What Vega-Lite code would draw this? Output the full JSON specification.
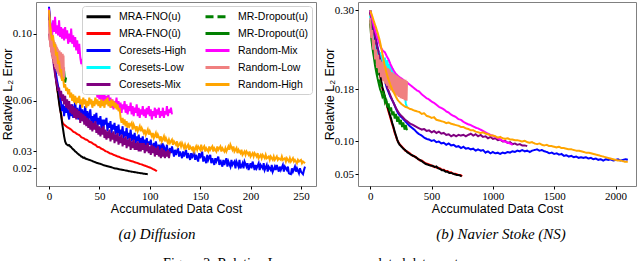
{
"$schema": "https://vega.github.io/schema/vega-lite/v6.json",
"padding": {"left": 0, "top": 1, "right": 0, "bottom": 0},
"background": "white",
"config": {
  "view": {"stroke": "#808080", "strokeWidth": 1},
  "axis": {"grid": false, "domain": false, "tickColor": "#000", "tickSize": 3, "tickWidth": 1, "labelFont": "Liberation Serif", "labelFontSize": 11, "labelColor": "#000", "labelPadding": 1.5, "titleFont": "Liberation Sans", "titleFontSize": 12.5, "titleFontWeight": "normal", "titleColor": "#000"},
  "legend": {"title": null, "orient": "top-right", "offset": 4, "columns": 2, "symbolType": "M-1,0H3", "symbolSize": 144, "symbolStrokeWidth": 3, "labelFont": "Liberation Sans", "labelFontSize": 10.5, "labelColor": "#000", "labelOffset": 19, "rowPadding": 3, "columnPadding": 12, "padding": 3, "fillColor": "#ffffff", "strokeColor": "#d0d0d0", "cornerRadius": 3, "symbolOpacity": 1, "labelLimit": 200}
},
"title": {"text": "Figure 2: Relative L₂ error vs. accumulated data cost.", "orient": "bottom", "anchor": "middle", "dx": -6, "offset": 14, "font": "Liberation Serif", "fontSize": 14, "fontWeight": "normal", "color": "#000"},
"spacing": 5,
"resolve": {"scale": {"color": "independent", "strokeDash": "independent"}, "legend": {"color": "independent", "strokeDash": "independent"}},
"datasets": {
"a": [
{"s":"MRA-FNO(û)","x":0,"y":0.112},{"s":"MRA-FNO(û)","x":1,"y":0.104},{"s":"MRA-FNO(û)","x":2,"y":0.099},{"s":"MRA-FNO(û)","x":3,"y":0.093},{"s":"MRA-FNO(û)","x":4,"y":0.088},{"s":"MRA-FNO(û)","x":5,"y":0.082},{"s":"MRA-FNO(û)","x":6,"y":0.078},{"s":"MRA-FNO(û)","x":7,"y":0.073},{"s":"MRA-FNO(û)","x":8,"y":0.068},{"s":"MRA-FNO(û)","x":9,"y":0.064},{"s":"MRA-FNO(û)","x":10,"y":0.060},{"s":"MRA-FNO(û)","x":11,"y":0.056},{"s":"MRA-FNO(û)","x":12,"y":0.052},{"s":"MRA-FNO(û)","x":13,"y":0.048},{"s":"MRA-FNO(û)","x":14,"y":0.0465},{"s":"MRA-FNO(û)","x":15,"y":0.046},{"s":"MRA-FNO(û)","x":16,"y":0.0455},{"s":"MRA-FNO(û)","x":17,"y":0.045},{"s":"MRA-FNO(û)","x":18,"y":0.0445},{"s":"MRA-FNO(û)","x":20,"y":0.0438},{"s":"MRA-FNO(û)","x":22,"y":0.043},{"s":"MRA-FNO(û)","x":24,"y":0.0418},{"s":"MRA-FNO(û)","x":26,"y":0.0412},{"s":"MRA-FNO(û)","x":28,"y":0.0403},{"s":"MRA-FNO(û)","x":30,"y":0.0398},{"s":"MRA-FNO(û)","x":32,"y":0.0385},{"s":"MRA-FNO(û)","x":34,"y":0.038},{"s":"MRA-FNO(û)","x":36,"y":0.0372},{"s":"MRA-FNO(û)","x":38,"y":0.0368},{"s":"MRA-FNO(û)","x":40,"y":0.0357},{"s":"MRA-FNO(û)","x":42,"y":0.0354},{"s":"MRA-FNO(û)","x":44,"y":0.0345},{"s":"MRA-FNO(û)","x":46,"y":0.0339},{"s":"MRA-FNO(û)","x":48,"y":0.0328},{"s":"MRA-FNO(û)","x":50,"y":0.0325},{"s":"MRA-FNO(û)","x":52,"y":0.0316},{"s":"MRA-FNO(û)","x":54,"y":0.0311},{"s":"MRA-FNO(û)","x":56,"y":0.0302},{"s":"MRA-FNO(û)","x":58,"y":0.0298},{"s":"MRA-FNO(û)","x":60,"y":0.029},{"s":"MRA-FNO(û)","x":62,"y":0.0287},{"s":"MRA-FNO(û)","x":64,"y":0.028},{"s":"MRA-FNO(û)","x":66,"y":0.0276},{"s":"MRA-FNO(û)","x":68,"y":0.027},{"s":"MRA-FNO(û)","x":70,"y":0.0267},{"s":"MRA-FNO(û)","x":72,"y":0.0261},{"s":"MRA-FNO(û)","x":74,"y":0.0258},{"s":"MRA-FNO(û)","x":76,"y":0.0253},{"s":"MRA-FNO(û)","x":78,"y":0.025},{"s":"MRA-FNO(û)","x":80,"y":0.0246},{"s":"MRA-FNO(û)","x":82,"y":0.0242},{"s":"MRA-FNO(û)","x":84,"y":0.0239},{"s":"MRA-FNO(û)","x":86,"y":0.0234},{"s":"MRA-FNO(û)","x":88,"y":0.0231},{"s":"MRA-FNO(û)","x":90,"y":0.0226},{"s":"MRA-FNO(û)","x":92,"y":0.0223},{"s":"MRA-FNO(û)","x":94,"y":0.0218},{"s":"MRA-FNO(û)","x":96,"y":0.0214},{"s":"MRA-FNO(û)","x":98,"y":0.0209},{"s":"MRA-FNO(û)","x":100,"y":0.0205},{"s":"MRA-FNO(û)","x":102,"y":0.0199},{"s":"MRA-FNO(û)","x":104,"y":0.0193},{"s":"MRA-FNO(û)","x":106,"y":0.0187},{"s":"MRA-FNO(û)","x":107,"y":0.0182},
{"s":"MRA-FNO(u)","x":0,"y":0.114},{"s":"MRA-FNO(u)","x":1,"y":0.107},{"s":"MRA-FNO(u)","x":2,"y":0.1},{"s":"MRA-FNO(u)","x":3,"y":0.094},{"s":"MRA-FNO(u)","x":4,"y":0.088},{"s":"MRA-FNO(u)","x":5,"y":0.083},{"s":"MRA-FNO(u)","x":6,"y":0.078},{"s":"MRA-FNO(u)","x":7,"y":0.073},{"s":"MRA-FNO(u)","x":8,"y":0.068},{"s":"MRA-FNO(u)","x":9,"y":0.064},{"s":"MRA-FNO(u)","x":10,"y":0.059},{"s":"MRA-FNO(u)","x":11,"y":0.055},{"s":"MRA-FNO(u)","x":12,"y":0.052},{"s":"MRA-FNO(u)","x":13,"y":0.047},{"s":"MRA-FNO(u)","x":14,"y":0.043},{"s":"MRA-FNO(u)","x":15,"y":0.039},{"s":"MRA-FNO(u)","x":16,"y":0.036},{"s":"MRA-FNO(u)","x":17,"y":0.0345},{"s":"MRA-FNO(u)","x":18,"y":0.034},{"s":"MRA-FNO(u)","x":19,"y":0.0336},{"s":"MRA-FNO(u)","x":20,"y":0.0338},{"s":"MRA-FNO(u)","x":21,"y":0.033},{"s":"MRA-FNO(u)","x":22,"y":0.0326},{"s":"MRA-FNO(u)","x":23,"y":0.0318},{"s":"MRA-FNO(u)","x":24,"y":0.0312},{"s":"MRA-FNO(u)","x":25,"y":0.0308},{"s":"MRA-FNO(u)","x":26,"y":0.03},{"s":"MRA-FNO(u)","x":27,"y":0.0296},{"s":"MRA-FNO(u)","x":28,"y":0.029},{"s":"MRA-FNO(u)","x":29,"y":0.0285},{"s":"MRA-FNO(u)","x":30,"y":0.028},{"s":"MRA-FNO(u)","x":31,"y":0.0276},{"s":"MRA-FNO(u)","x":32,"y":0.027},{"s":"MRA-FNO(u)","x":33,"y":0.0268},{"s":"MRA-FNO(u)","x":34,"y":0.0262},{"s":"MRA-FNO(u)","x":35,"y":0.0264},{"s":"MRA-FNO(u)","x":36,"y":0.0258},{"s":"MRA-FNO(u)","x":38,"y":0.0254},{"s":"MRA-FNO(u)","x":40,"y":0.025},{"s":"MRA-FNO(u)","x":42,"y":0.0246},{"s":"MRA-FNO(u)","x":44,"y":0.024},{"s":"MRA-FNO(u)","x":46,"y":0.0236},{"s":"MRA-FNO(u)","x":48,"y":0.0231},{"s":"MRA-FNO(u)","x":50,"y":0.0228},{"s":"MRA-FNO(u)","x":52,"y":0.0224},{"s":"MRA-FNO(u)","x":54,"y":0.0219},{"s":"MRA-FNO(u)","x":56,"y":0.0216},{"s":"MRA-FNO(u)","x":58,"y":0.0212},{"s":"MRA-FNO(u)","x":60,"y":0.0209},{"s":"MRA-FNO(u)","x":62,"y":0.0206},{"s":"MRA-FNO(u)","x":64,"y":0.0202},{"s":"MRA-FNO(u)","x":66,"y":0.0199},{"s":"MRA-FNO(u)","x":68,"y":0.0197},{"s":"MRA-FNO(u)","x":70,"y":0.0194},{"s":"MRA-FNO(u)","x":72,"y":0.0192},{"s":"MRA-FNO(u)","x":74,"y":0.019},{"s":"MRA-FNO(u)","x":76,"y":0.0187},{"s":"MRA-FNO(u)","x":78,"y":0.0185},{"s":"MRA-FNO(u)","x":80,"y":0.0182},{"s":"MRA-FNO(u)","x":82,"y":0.018},{"s":"MRA-FNO(u)","x":84,"y":0.0178},{"s":"MRA-FNO(u)","x":86,"y":0.0176},{"s":"MRA-FNO(u)","x":88,"y":0.0174},{"s":"MRA-FNO(u)","x":90,"y":0.0172},{"s":"MRA-FNO(u)","x":92,"y":0.017},{"s":"MRA-FNO(u)","x":94,"y":0.0168},{"s":"MRA-FNO(u)","x":96,"y":0.0166},{"s":"MRA-FNO(u)","x":98,"y":0.0165},
{"s":"Coresets-High","x":0,"y":0.116},{"s":"Coresets-High","x":1,"y":0.109},{"s":"Coresets-High","x":2,"y":0.101},{"s":"Coresets-High","x":3,"y":0.095},{"s":"Coresets-High","x":4,"y":0.09},{"s":"Coresets-High","x":5,"y":0.085},{"s":"Coresets-High","x":6,"y":0.08},{"s":"Coresets-High","x":7,"y":0.076},{"s":"Coresets-High","x":8,"y":0.072},{"s":"Coresets-High","x":9,"y":0.069},{"s":"Coresets-High","x":10,"y":0.066},{"s":"Coresets-High","x":11,"y":0.062},{"s":"Coresets-High","x":12,"y":0.059},{"s":"Coresets-High","x":13,"y":0.054},{"s":"Coresets-High","x":14,"y":0.058},{"s":"Coresets-High","x":15,"y":0.051},{"s":"Coresets-High","x":16,"y":0.057},{"s":"Coresets-High","x":17,"y":0.053},{"s":"Coresets-High","x":18,"y":0.06},{"s":"Coresets-High","x":19,"y":0.052},{"s":"Coresets-High","x":20,"y":0.049},{"s":"Coresets-High","x":21,"y":0.056},{"s":"Coresets-High","x":22,"y":0.051},{"s":"Coresets-High","x":23,"y":0.058},{"s":"Coresets-High","x":24,"y":0.05},{"s":"Coresets-High","x":25,"y":0.055},{"s":"Coresets-High","x":26,"y":0.06},{"s":"Coresets-High","x":27,"y":0.052},{"s":"Coresets-High","x":28,"y":0.056},{"s":"Coresets-High","x":29,"y":0.049},{"s":"Coresets-High","x":30,"y":0.054},{"s":"Coresets-High","x":31,"y":0.058},{"s":"Coresets-High","x":32,"y":0.05},{"s":"Coresets-High","x":33,"y":0.055},{"s":"Coresets-High","x":34,"y":0.048},{"s":"Coresets-High","x":35,"y":0.053},{"s":"Coresets-High","x":36,"y":0.057},{"s":"Coresets-High","x":37,"y":0.049},{"s":"Coresets-High","x":38,"y":0.054},{"s":"Coresets-High","x":39,"y":0.047},{"s":"Coresets-High","x":40,"y":0.052},{"s":"Coresets-High","x":41,"y":0.055},{"s":"Coresets-High","x":42,"y":0.047},{"s":"Coresets-High","x":43,"y":0.051},{"s":"Coresets-High","x":44,"y":0.045},{"s":"Coresets-High","x":45,"y":0.052},{"s":"Coresets-High","x":46,"y":0.048},{"s":"Coresets-High","x":47,"y":0.053},{"s":"Coresets-High","x":48,"y":0.045},{"s":"Coresets-High","x":49,"y":0.05},{"s":"Coresets-High","x":50,"y":0.046},{"s":"Coresets-High","x":51,"y":0.051},{"s":"Coresets-High","x":52,"y":0.044},{"s":"Coresets-High","x":53,"y":0.049},{"s":"Coresets-High","x":54,"y":0.043},{"s":"Coresets-High","x":55,"y":0.049},{"s":"Coresets-High","x":56,"y":0.046},{"s":"Coresets-High","x":57,"y":0.05},{"s":"Coresets-High","x":58,"y":0.042},{"s":"Coresets-High","x":59,"y":0.047},{"s":"Coresets-High","x":60,"y":0.044},{"s":"Coresets-High","x":61,"y":0.048},{"s":"Coresets-High","x":62,"y":0.041},{"s":"Coresets-High","x":63,"y":0.046},{"s":"Coresets-High","x":64,"y":0.043},{"s":"Coresets-High","x":65,"y":0.047},{"s":"Coresets-High","x":66,"y":0.04},{"s":"Coresets-High","x":67,"y":0.045},{"s":"Coresets-High","x":68,"y":0.041},{"s":"Coresets-High","x":69,"y":0.046},{"s":"Coresets-High","x":70,"y":0.039},{"s":"Coresets-High","x":71,"y":0.043},{"s":"Coresets-High","x":72,"y":0.04},{"s":"Coresets-High","x":73,"y":0.045},{"s":"Coresets-High","x":74,"y":0.038},{"s":"Coresets-High","x":75,"y":0.042},{"s":"Coresets-High","x":76,"y":0.039},{"s":"Coresets-High","x":77,"y":0.044},{"s":"Coresets-High","x":78,"y":0.037},{"s":"Coresets-High","x":79,"y":0.041},{"s":"Coresets-High","x":80,"y":0.038},{"s":"Coresets-High","x":81,"y":0.043},{"s":"Coresets-High","x":82,"y":0.036},{"s":"Coresets-High","x":83,"y":0.04},{"s":"Coresets-High","x":84,"y":0.037},{"s":"Coresets-High","x":85,"y":0.041},{"s":"Coresets-High","x":86,"y":0.035},{"s":"Coresets-High","x":87,"y":0.039},{"s":"Coresets-High","x":88,"y":0.036},{"s":"Coresets-High","x":89,"y":0.04},{"s":"Coresets-High","x":90,"y":0.034},{"s":"Coresets-High","x":91,"y":0.038},{"s":"Coresets-High","x":92,"y":0.035},{"s":"Coresets-High","x":93,"y":0.039},{"s":"Coresets-High","x":94,"y":0.033},{"s":"Coresets-High","x":95,"y":0.037},{"s":"Coresets-High","x":96,"y":0.034},{"s":"Coresets-High","x":97,"y":0.038},{"s":"Coresets-High","x":98,"y":0.032},{"s":"Coresets-High","x":99,"y":0.036},{"s":"Coresets-High","x":100,"y":0.034},{"s":"Coresets-High","x":101,"y":0.037},{"s":"Coresets-High","x":102,"y":0.031},{"s":"Coresets-High","x":104,"y":0.035},{"s":"Coresets-High","x":105,"y":0.032},{"s":"Coresets-High","x":106,"y":0.036},{"s":"Coresets-High","x":108,"y":0.03},{"s":"Coresets-High","x":109,"y":0.034},{"s":"Coresets-High","x":110,"y":0.031},{"s":"Coresets-High","x":112,"y":0.035},{"s":"Coresets-High","x":113,"y":0.029},{"s":"Coresets-High","x":114,"y":0.033},{"s":"Coresets-High","x":116,"y":0.03},{"s":"Coresets-High","x":117,"y":0.034},{"s":"Coresets-High","x":118,"y":0.028},{"s":"Coresets-High","x":120,"y":0.032},{"s":"Coresets-High","x":121,"y":0.029},{"s":"Coresets-High","x":122,"y":0.033},{"s":"Coresets-High","x":124,"y":0.027},{"s":"Coresets-High","x":125,"y":0.031},{"s":"Coresets-High","x":126,"y":0.028},{"s":"Coresets-High","x":128,"y":0.032},{"s":"Coresets-High","x":129,"y":0.027},{"s":"Coresets-High","x":130,"y":0.03},{"s":"Coresets-High","x":132,"y":0.026},{"s":"Coresets-High","x":133,"y":0.03},{"s":"Coresets-High","x":134,"y":0.027},{"s":"Coresets-High","x":136,"y":0.031},{"s":"Coresets-High","x":137,"y":0.026},{"s":"Coresets-High","x":138,"y":0.029},{"s":"Coresets-High","x":140,"y":0.025},{"s":"Coresets-High","x":141,"y":0.029},{"s":"Coresets-High","x":142,"y":0.026},{"s":"Coresets-High","x":144,"y":0.03},{"s":"Coresets-High","x":145,"y":0.025},{"s":"Coresets-High","x":146,"y":0.028},{"s":"Coresets-High","x":148,"y":0.024},{"s":"Coresets-High","x":149,"y":0.029},{"s":"Coresets-High","x":150,"y":0.026},{"s":"Coresets-High","x":152,"y":0.03},{"s":"Coresets-High","x":153,"y":0.024},{"s":"Coresets-High","x":154,"y":0.027},{"s":"Coresets-High","x":156,"y":0.023},{"s":"Coresets-High","x":157,"y":0.028},{"s":"Coresets-High","x":158,"y":0.025},{"s":"Coresets-High","x":160,"y":0.028},{"s":"Coresets-High","x":161,"y":0.023},{"s":"Coresets-High","x":162,"y":0.026},{"s":"Coresets-High","x":164,"y":0.022},{"s":"Coresets-High","x":165,"y":0.026},{"s":"Coresets-High","x":166,"y":0.024},{"s":"Coresets-High","x":168,"y":0.027},{"s":"Coresets-High","x":169,"y":0.022},{"s":"Coresets-High","x":170,"y":0.025},{"s":"Coresets-High","x":172,"y":0.021},{"s":"Coresets-High","x":173,"y":0.025},{"s":"Coresets-High","x":174,"y":0.022},{"s":"Coresets-High","x":176,"y":0.026},{"s":"Coresets-High","x":177,"y":0.021},{"s":"Coresets-High","x":178,"y":0.024},{"s":"Coresets-High","x":180,"y":0.021},{"s":"Coresets-High","x":181,"y":0.025},{"s":"Coresets-High","x":182,"y":0.022},{"s":"Coresets-High","x":184,"y":0.024},{"s":"Coresets-High","x":185,"y":0.02},{"s":"Coresets-High","x":186,"y":0.024},{"s":"Coresets-High","x":188,"y":0.021},{"s":"Coresets-High","x":189,"y":0.025},{"s":"Coresets-High","x":190,"y":0.02},{"s":"Coresets-High","x":192,"y":0.023},{"s":"Coresets-High","x":193,"y":0.02},{"s":"Coresets-High","x":194,"y":0.024},{"s":"Coresets-High","x":196,"y":0.021},{"s":"Coresets-High","x":197,"y":0.023},{"s":"Coresets-High","x":198,"y":0.019},{"s":"Coresets-High","x":200,"y":0.023},{"s":"Coresets-High","x":201,"y":0.02},{"s":"Coresets-High","x":202,"y":0.024},{"s":"Coresets-High","x":204,"y":0.019},{"s":"Coresets-High","x":205,"y":0.022},{"s":"Coresets-High","x":206,"y":0.02},{"s":"Coresets-High","x":208,"y":0.023},{"s":"Coresets-High","x":209,"y":0.019},{"s":"Coresets-High","x":210,"y":0.022},{"s":"Coresets-High","x":212,"y":0.02},{"s":"Coresets-High","x":213,"y":0.023},{"s":"Coresets-High","x":214,"y":0.019},{"s":"Coresets-High","x":216,"y":0.022},{"s":"Coresets-High","x":217,"y":0.018},{"s":"Coresets-High","x":218,"y":0.021},{"s":"Coresets-High","x":220,"y":0.019},{"s":"Coresets-High","x":221,"y":0.022},{"s":"Coresets-High","x":222,"y":0.018},{"s":"Coresets-High","x":224,"y":0.021},{"s":"Coresets-High","x":225,"y":0.019},{"s":"Coresets-High","x":226,"y":0.022},{"s":"Coresets-High","x":228,"y":0.018},{"s":"Coresets-High","x":229,"y":0.021},{"s":"Coresets-High","x":230,"y":0.019},{"s":"Coresets-High","x":232,"y":0.022},{"s":"Coresets-High","x":233,"y":0.018},{"s":"Coresets-High","x":234,"y":0.021},{"s":"Coresets-High","x":236,"y":0.019},{"s":"Coresets-High","x":237,"y":0.021},{"s":"Coresets-High","x":238,"y":0.017},{"s":"Coresets-High","x":240,"y":0.0165},{"s":"Coresets-High","x":241,"y":0.02},{"s":"Coresets-High","x":242,"y":0.018},{"s":"Coresets-High","x":244,"y":0.021},{"s":"Coresets-High","x":245,"y":0.018},{"s":"Coresets-High","x":246,"y":0.02},{"s":"Coresets-High","x":248,"y":0.017},{"s":"Coresets-High","x":249,"y":0.02},{"s":"Coresets-High","x":250,"y":0.018},{"s":"Coresets-High","x":252,"y":0.0165},{"s":"Coresets-High","x":253,"y":0.019},{"s":"Coresets-High","x":254,"y":0.021},
{"s":"Coresets-Low","x":0,"y":0.112},{"s":"Coresets-Low","x":0.5,"y":0.104},{"s":"Coresets-Low","x":1,"y":0.108},{"s":"Coresets-Low","x":1.5,"y":0.099},{"s":"Coresets-Low","x":2,"y":0.104},{"s":"Coresets-Low","x":2.5,"y":0.095},{"s":"Coresets-Low","x":3,"y":0.1},{"s":"Coresets-Low","x":3.5,"y":0.092},{"s":"Coresets-Low","x":4,"y":0.098},{"s":"Coresets-Low","x":4.5,"y":0.089},{"s":"Coresets-Low","x":5,"y":0.095},{"s":"Coresets-Low","x":5.5,"y":0.086},{"s":"Coresets-Low","x":6,"y":0.093},{"s":"Coresets-Low","x":6.5,"y":0.084},{"s":"Coresets-Low","x":7,"y":0.09},{"s":"Coresets-Low","x":7.5,"y":0.082},{"s":"Coresets-Low","x":8,"y":0.088},{"s":"Coresets-Low","x":8.5,"y":0.08},{"s":"Coresets-Low","x":9,"y":0.087},{"s":"Coresets-Low","x":9.5,"y":0.079},{"s":"Coresets-Low","x":10,"y":0.086},{"s":"Coresets-Low","x":10.5,"y":0.077},{"s":"Coresets-Low","x":11,"y":0.084},{"s":"Coresets-Low","x":11.5,"y":0.076},{"s":"Coresets-Low","x":12,"y":0.083},{"s":"Coresets-Low","x":12.5,"y":0.078},{"s":"Coresets-Low","x":13,"y":0.082},
{"s":"Coresets-Mix","x":0,"y":0.1},{"s":"Coresets-Mix","x":1,"y":0.096},{"s":"Coresets-Mix","x":2,"y":0.092},{"s":"Coresets-Mix","x":3,"y":0.088},{"s":"Coresets-Mix","x":4,"y":0.085},{"s":"Coresets-Mix","x":5,"y":0.08},{"s":"Coresets-Mix","x":6,"y":0.076},{"s":"Coresets-Mix","x":7,"y":0.072},{"s":"Coresets-Mix","x":8,"y":0.07},{"s":"Coresets-Mix","x":9,"y":0.066},{"s":"Coresets-Mix","x":10,"y":0.068},{"s":"Coresets-Mix","x":11,"y":0.062},{"s":"Coresets-Mix","x":12,"y":0.066},{"s":"Coresets-Mix","x":13,"y":0.06},{"s":"Coresets-Mix","x":14,"y":0.064},{"s":"Coresets-Mix","x":15,"y":0.058},{"s":"Coresets-Mix","x":16,"y":0.063},{"s":"Coresets-Mix","x":17,"y":0.056},{"s":"Coresets-Mix","x":18,"y":0.061},{"s":"Coresets-Mix","x":19,"y":0.055},{"s":"Coresets-Mix","x":20,"y":0.06},{"s":"Coresets-Mix","x":21,"y":0.053},{"s":"Coresets-Mix","x":22,"y":0.058},{"s":"Coresets-Mix","x":23,"y":0.052},{"s":"Coresets-Mix","x":24,"y":0.057},{"s":"Coresets-Mix","x":25,"y":0.05},{"s":"Coresets-Mix","x":26,"y":0.056},{"s":"Coresets-Mix","x":27,"y":0.049},{"s":"Coresets-Mix","x":28,"y":0.055},{"s":"Coresets-Mix","x":29,"y":0.05},{"s":"Coresets-Mix","x":30,"y":0.054},{"s":"Coresets-Mix","x":31,"y":0.047},{"s":"Coresets-Mix","x":32,"y":0.053},{"s":"Coresets-Mix","x":33,"y":0.048},{"s":"Coresets-Mix","x":34,"y":0.052},{"s":"Coresets-Mix","x":35,"y":0.046},{"s":"Coresets-Mix","x":36,"y":0.051},{"s":"Coresets-Mix","x":37,"y":0.045},{"s":"Coresets-Mix","x":38,"y":0.05},{"s":"Coresets-Mix","x":39,"y":0.044},{"s":"Coresets-Mix","x":40,"y":0.049},{"s":"Coresets-Mix","x":41,"y":0.043},{"s":"Coresets-Mix","x":42,"y":0.048},{"s":"Coresets-Mix","x":43,"y":0.042},{"s":"Coresets-Mix","x":44,"y":0.047},{"s":"Coresets-Mix","x":45,"y":0.043},{"s":"Coresets-Mix","x":46,"y":0.048},{"s":"Coresets-Mix","x":47,"y":0.041},{"s":"Coresets-Mix","x":48,"y":0.046},{"s":"Coresets-Mix","x":49,"y":0.04},{"s":"Coresets-Mix","x":50,"y":0.045},{"s":"Coresets-Mix","x":51,"y":0.039},{"s":"Coresets-Mix","x":52,"y":0.044},{"s":"Coresets-Mix","x":53,"y":0.04},{"s":"Coresets-Mix","x":54,"y":0.045},{"s":"Coresets-Mix","x":55,"y":0.038},{"s":"Coresets-Mix","x":56,"y":0.043},{"s":"Coresets-Mix","x":57,"y":0.037},{"s":"Coresets-Mix","x":58,"y":0.042},{"s":"Coresets-Mix","x":59,"y":0.038},{"s":"Coresets-Mix","x":60,"y":0.043},{"s":"Coresets-Mix","x":61,"y":0.036},{"s":"Coresets-Mix","x":62,"y":0.041},{"s":"Coresets-Mix","x":63,"y":0.037},{"s":"Coresets-Mix","x":64,"y":0.042},{"s":"Coresets-Mix","x":65,"y":0.035},{"s":"Coresets-Mix","x":66,"y":0.04},{"s":"Coresets-Mix","x":67,"y":0.036},{"s":"Coresets-Mix","x":68,"y":0.041},{"s":"Coresets-Mix","x":69,"y":0.034},{"s":"Coresets-Mix","x":70,"y":0.039},{"s":"Coresets-Mix","x":71,"y":0.035},{"s":"Coresets-Mix","x":72,"y":0.04},{"s":"Coresets-Mix","x":73,"y":0.033},{"s":"Coresets-Mix","x":74,"y":0.038},{"s":"Coresets-Mix","x":75,"y":0.034},{"s":"Coresets-Mix","x":76,"y":0.039},{"s":"Coresets-Mix","x":77,"y":0.032},{"s":"Coresets-Mix","x":78,"y":0.037},{"s":"Coresets-Mix","x":79,"y":0.033},{"s":"Coresets-Mix","x":80,"y":0.038},{"s":"Coresets-Mix","x":81,"y":0.031},{"s":"Coresets-Mix","x":82,"y":0.036},{"s":"Coresets-Mix","x":83,"y":0.032},{"s":"Coresets-Mix","x":84,"y":0.037},{"s":"Coresets-Mix","x":85,"y":0.031},{"s":"Coresets-Mix","x":86,"y":0.035},{"s":"Coresets-Mix","x":87,"y":0.031},{"s":"Coresets-Mix","x":88,"y":0.036},{"s":"Coresets-Mix","x":89,"y":0.03},{"s":"Coresets-Mix","x":90,"y":0.035},{"s":"Coresets-Mix","x":91,"y":0.03},{"s":"Coresets-Mix","x":92,"y":0.035},{"s":"Coresets-Mix","x":93,"y":0.031},{"s":"Coresets-Mix","x":94,"y":0.035},{"s":"Coresets-Mix","x":95,"y":0.029},{"s":"Coresets-Mix","x":96,"y":0.034},{"s":"Coresets-Mix","x":97,"y":0.03},{"s":"Coresets-Mix","x":98,"y":0.035},{"s":"Coresets-Mix","x":99,"y":0.029},{"s":"Coresets-Mix","x":100,"y":0.033},{"s":"Coresets-Mix","x":101,"y":0.028},{"s":"Coresets-Mix","x":102,"y":0.034},{"s":"Coresets-Mix","x":103,"y":0.029},{"s":"Coresets-Mix","x":104,"y":0.033},{"s":"Coresets-Mix","x":105,"y":0.027},{"s":"Coresets-Mix","x":106,"y":0.032},{"s":"Coresets-Mix","x":107,"y":0.028},{"s":"Coresets-Mix","x":108,"y":0.033},{"s":"Coresets-Mix","x":109,"y":0.027},{"s":"Coresets-Mix","x":110,"y":0.031},{"s":"Coresets-Mix","x":111,"y":0.026},{"s":"Coresets-Mix","x":112,"y":0.032},{"s":"Coresets-Mix","x":113,"y":0.027},{"s":"Coresets-Mix","x":114,"y":0.031},{"s":"Coresets-Mix","x":115,"y":0.026},{"s":"Coresets-Mix","x":116,"y":0.03},{"s":"Coresets-Mix","x":117,"y":0.027},{"s":"Coresets-Mix","x":118,"y":0.031},{"s":"Coresets-Mix","x":119,"y":0.026},{"s":"Coresets-Mix","x":120,"y":0.03},
{"s":"MR-Dropout(u)","x":0,"y":0.112},{"s":"MR-Dropout(u)","x":1,"y":0.106},{"s":"MR-Dropout(u)","x":2,"y":0.101},{"s":"MR-Dropout(u)","x":3,"y":0.097},{"s":"MR-Dropout(u)","x":4,"y":0.094},{"s":"MR-Dropout(u)","x":5,"y":0.09},{"s":"MR-Dropout(u)","x":6,"y":0.088},{"s":"MR-Dropout(u)","x":7,"y":0.085},{"s":"MR-Dropout(u)","x":8,"y":0.083},{"s":"MR-Dropout(u)","x":9,"y":0.081},{"s":"MR-Dropout(u)","x":10,"y":0.079},{"s":"MR-Dropout(u)","x":11,"y":0.077},{"s":"MR-Dropout(u)","x":12,"y":0.076},{"s":"MR-Dropout(u)","x":13,"y":0.075},{"s":"MR-Dropout(u)","x":14,"y":0.074},
{"s":"MR-Dropout(û)","x":0,"y":0.11},{"s":"MR-Dropout(û)","x":1,"y":0.104},{"s":"MR-Dropout(û)","x":2,"y":0.098},{"s":"MR-Dropout(û)","x":3,"y":0.1},{"s":"MR-Dropout(û)","x":4,"y":0.092},{"s":"MR-Dropout(û)","x":5,"y":0.095},{"s":"MR-Dropout(û)","x":6,"y":0.087},{"s":"MR-Dropout(û)","x":7,"y":0.09},{"s":"MR-Dropout(û)","x":8,"y":0.083},{"s":"MR-Dropout(û)","x":9,"y":0.086},{"s":"MR-Dropout(û)","x":10,"y":0.079},{"s":"MR-Dropout(û)","x":11,"y":0.083},{"s":"MR-Dropout(û)","x":12,"y":0.076},{"s":"MR-Dropout(û)","x":13,"y":0.08},{"s":"MR-Dropout(û)","x":14,"y":0.073},{"s":"MR-Dropout(û)","x":15,"y":0.078},{"s":"MR-Dropout(û)","x":16,"y":0.071},{"s":"MR-Dropout(û)","x":17,"y":0.074},
{"s":"Random-Mix","x":0,"y":0.115},{"s":"Random-Mix","x":1,"y":0.1},{"s":"Random-Mix","x":2,"y":0.106},{"s":"Random-Mix","x":3,"y":0.098},{"s":"Random-Mix","x":4,"y":0.108},{"s":"Random-Mix","x":5,"y":0.101},{"s":"Random-Mix","x":6,"y":0.11},{"s":"Random-Mix","x":7,"y":0.1},{"s":"Random-Mix","x":8,"y":0.105},{"s":"Random-Mix","x":9,"y":0.099},{"s":"Random-Mix","x":10,"y":0.108},{"s":"Random-Mix","x":11,"y":0.098},{"s":"Random-Mix","x":12,"y":0.104},{"s":"Random-Mix","x":13,"y":0.097},{"s":"Random-Mix","x":14,"y":0.103},{"s":"Random-Mix","x":15,"y":0.096},{"s":"Random-Mix","x":16,"y":0.104},{"s":"Random-Mix","x":17,"y":0.097},{"s":"Random-Mix","x":18,"y":0.102},{"s":"Random-Mix","x":19,"y":0.094},{"s":"Random-Mix","x":20,"y":0.1},{"s":"Random-Mix","x":21,"y":0.095},{"s":"Random-Mix","x":22,"y":0.103},{"s":"Random-Mix","x":23,"y":0.094},{"s":"Random-Mix","x":24,"y":0.099},{"s":"Random-Mix","x":25,"y":0.092},{"s":"Random-Mix","x":26,"y":0.098},{"s":"Random-Mix","x":27,"y":0.09},{"s":"Random-Mix","x":28,"y":0.096},{"s":"Random-Mix","x":29,"y":0.088},{"s":"Random-Mix","x":30,"y":0.094},{"s":"Random-Mix","x":31,"y":0.086},{"s":"Random-Mix","x":32,"y":0.082},{"s":"Random-Mix","x":33,"y":0.085},{"s":"Random-Mix","x":34,"y":0.078},{"s":"Random-Mix","x":35,"y":0.081},{"s":"Random-Mix","x":36,"y":0.074},{"s":"Random-Mix","x":37,"y":0.078},{"s":"Random-Mix","x":38,"y":0.071},{"s":"Random-Mix","x":39,"y":0.075},{"s":"Random-Mix","x":40,"y":0.069},{"s":"Random-Mix","x":41,"y":0.073},{"s":"Random-Mix","x":42,"y":0.067},{"s":"Random-Mix","x":43,"y":0.071},{"s":"Random-Mix","x":44,"y":0.065},{"s":"Random-Mix","x":45,"y":0.07},{"s":"Random-Mix","x":46,"y":0.064},{"s":"Random-Mix","x":47,"y":0.068},{"s":"Random-Mix","x":48,"y":0.062},{"s":"Random-Mix","x":49,"y":0.067},{"s":"Random-Mix","x":50,"y":0.061},{"s":"Random-Mix","x":51,"y":0.066},{"s":"Random-Mix","x":52,"y":0.06},{"s":"Random-Mix","x":53,"y":0.065},{"s":"Random-Mix","x":54,"y":0.059},{"s":"Random-Mix","x":55,"y":0.064},{"s":"Random-Mix","x":56,"y":0.058},{"s":"Random-Mix","x":57,"y":0.063},{"s":"Random-Mix","x":58,"y":0.06},{"s":"Random-Mix","x":59,"y":0.064},{"s":"Random-Mix","x":60,"y":0.057},{"s":"Random-Mix","x":61,"y":0.062},{"s":"Random-Mix","x":62,"y":0.056},{"s":"Random-Mix","x":63,"y":0.061},{"s":"Random-Mix","x":64,"y":0.055},{"s":"Random-Mix","x":65,"y":0.06},{"s":"Random-Mix","x":66,"y":0.057},{"s":"Random-Mix","x":67,"y":0.062},{"s":"Random-Mix","x":68,"y":0.055},{"s":"Random-Mix","x":69,"y":0.06},{"s":"Random-Mix","x":70,"y":0.054},{"s":"Random-Mix","x":71,"y":0.059},{"s":"Random-Mix","x":72,"y":0.053},{"s":"Random-Mix","x":73,"y":0.058},{"s":"Random-Mix","x":74,"y":0.055},{"s":"Random-Mix","x":75,"y":0.06},{"s":"Random-Mix","x":76,"y":0.053},{"s":"Random-Mix","x":77,"y":0.058},{"s":"Random-Mix","x":78,"y":0.052},{"s":"Random-Mix","x":79,"y":0.057},{"s":"Random-Mix","x":80,"y":0.054},{"s":"Random-Mix","x":81,"y":0.059},{"s":"Random-Mix","x":82,"y":0.052},{"s":"Random-Mix","x":83,"y":0.057},{"s":"Random-Mix","x":84,"y":0.051},{"s":"Random-Mix","x":85,"y":0.056},{"s":"Random-Mix","x":86,"y":0.053},{"s":"Random-Mix","x":87,"y":0.058},{"s":"Random-Mix","x":88,"y":0.051},{"s":"Random-Mix","x":89,"y":0.056},{"s":"Random-Mix","x":90,"y":0.05},{"s":"Random-Mix","x":91,"y":0.055},{"s":"Random-Mix","x":92,"y":0.052},{"s":"Random-Mix","x":93,"y":0.057},{"s":"Random-Mix","x":94,"y":0.051},{"s":"Random-Mix","x":95,"y":0.055},{"s":"Random-Mix","x":96,"y":0.05},{"s":"Random-Mix","x":97,"y":0.056},{"s":"Random-Mix","x":98,"y":0.052},{"s":"Random-Mix","x":99,"y":0.057},{"s":"Random-Mix","x":100,"y":0.051},{"s":"Random-Mix","x":101,"y":0.055},{"s":"Random-Mix","x":102,"y":0.049},{"s":"Random-Mix","x":103,"y":0.054},{"s":"Random-Mix","x":104,"y":0.051},{"s":"Random-Mix","x":105,"y":0.056},{"s":"Random-Mix","x":106,"y":0.05},{"s":"Random-Mix","x":107,"y":0.055},{"s":"Random-Mix","x":108,"y":0.052},{"s":"Random-Mix","x":109,"y":0.056},{"s":"Random-Mix","x":110,"y":0.05},{"s":"Random-Mix","x":111,"y":0.054},{"s":"Random-Mix","x":112,"y":0.051},{"s":"Random-Mix","x":113,"y":0.056},{"s":"Random-Mix","x":114,"y":0.05},{"s":"Random-Mix","x":115,"y":0.054},{"s":"Random-Mix","x":116,"y":0.052},{"s":"Random-Mix","x":117,"y":0.057},{"s":"Random-Mix","x":118,"y":0.051},{"s":"Random-Mix","x":119,"y":0.055},{"s":"Random-Mix","x":120,"y":0.053},{"s":"Random-Mix","x":121,"y":0.056},{"s":"Random-Mix","x":122,"y":0.052},
{"s":"Random-Low","x":0,"y":0.108},{"s":"Random-Low","x":0.4,"y":0.096},{"s":"Random-Low","x":0.8,"y":0.105},{"s":"Random-Low","x":1.2,"y":0.092},{"s":"Random-Low","x":1.6,"y":0.103},{"s":"Random-Low","x":2,"y":0.089},{"s":"Random-Low","x":2.4,"y":0.101},{"s":"Random-Low","x":2.8,"y":0.087},{"s":"Random-Low","x":3.2,"y":0.099},{"s":"Random-Low","x":3.6,"y":0.085},{"s":"Random-Low","x":4,"y":0.098},{"s":"Random-Low","x":4.4,"y":0.083},{"s":"Random-Low","x":4.8,"y":0.096},{"s":"Random-Low","x":5.2,"y":0.082},{"s":"Random-Low","x":5.6,"y":0.095},{"s":"Random-Low","x":6,"y":0.08},{"s":"Random-Low","x":6.4,"y":0.094},{"s":"Random-Low","x":6.8,"y":0.079},{"s":"Random-Low","x":7.2,"y":0.093},{"s":"Random-Low","x":7.6,"y":0.078},{"s":"Random-Low","x":8,"y":0.092},{"s":"Random-Low","x":8.4,"y":0.077},{"s":"Random-Low","x":8.8,"y":0.091},{"s":"Random-Low","x":9.2,"y":0.076},{"s":"Random-Low","x":9.6,"y":0.09},{"s":"Random-Low","x":10,"y":0.075},{"s":"Random-Low","x":10.4,"y":0.09},{"s":"Random-Low","x":10.8,"y":0.075},{"s":"Random-Low","x":11.2,"y":0.089},{"s":"Random-Low","x":11.6,"y":0.074},{"s":"Random-Low","x":12,"y":0.089},{"s":"Random-Low","x":12.4,"y":0.073},{"s":"Random-Low","x":12.8,"y":0.088},{"s":"Random-Low","x":13.2,"y":0.073},{"s":"Random-Low","x":13.6,"y":0.088},{"s":"Random-Low","x":14,"y":0.072},{"s":"Random-Low","x":14.4,"y":0.087},{"s":"Random-Low","x":14.8,"y":0.073},{"s":"Random-Low","x":15,"y":0.08},
{"s":"Random-High","x":0,"y":0.114},{"s":"Random-High","x":1,"y":0.106},{"s":"Random-High","x":2,"y":0.1},{"s":"Random-High","x":3,"y":0.096},{"s":"Random-High","x":4,"y":0.099},{"s":"Random-High","x":5,"y":0.092},{"s":"Random-High","x":6,"y":0.094},{"s":"Random-High","x":7,"y":0.087},{"s":"Random-High","x":8,"y":0.089},{"s":"Random-High","x":9,"y":0.082},{"s":"Random-High","x":10,"y":0.084},{"s":"Random-High","x":11,"y":0.077},{"s":"Random-High","x":12,"y":0.079},{"s":"Random-High","x":13,"y":0.072},{"s":"Random-High","x":14,"y":0.074},{"s":"Random-High","x":15,"y":0.068},{"s":"Random-High","x":16,"y":0.07},{"s":"Random-High","x":17,"y":0.066},{"s":"Random-High","x":18,"y":0.068},{"s":"Random-High","x":19,"y":0.064},{"s":"Random-High","x":20,"y":0.067},{"s":"Random-High","x":21,"y":0.062},{"s":"Random-High","x":22,"y":0.065},{"s":"Random-High","x":23,"y":0.06},{"s":"Random-High","x":24,"y":0.064},{"s":"Random-High","x":25,"y":0.059},{"s":"Random-High","x":26,"y":0.063},{"s":"Random-High","x":27,"y":0.058},{"s":"Random-High","x":28,"y":0.062},{"s":"Random-High","x":29,"y":0.059},{"s":"Random-High","x":30,"y":0.063},{"s":"Random-High","x":31,"y":0.058},{"s":"Random-High","x":32,"y":0.061},{"s":"Random-High","x":33,"y":0.056},{"s":"Random-High","x":34,"y":0.062},{"s":"Random-High","x":35,"y":0.058},{"s":"Random-High","x":36,"y":0.061},{"s":"Random-High","x":37,"y":0.056},{"s":"Random-High","x":38,"y":0.06},{"s":"Random-High","x":39,"y":0.057},{"s":"Random-High","x":40,"y":0.062},{"s":"Random-High","x":41,"y":0.058},{"s":"Random-High","x":42,"y":0.061},{"s":"Random-High","x":43,"y":0.056},{"s":"Random-High","x":44,"y":0.06},{"s":"Random-High","x":45,"y":0.057},{"s":"Random-High","x":46,"y":0.062},{"s":"Random-High","x":47,"y":0.058},{"s":"Random-High","x":48,"y":0.061},{"s":"Random-High","x":49,"y":0.057},{"s":"Random-High","x":50,"y":0.06},{"s":"Random-High","x":51,"y":0.056},{"s":"Random-High","x":52,"y":0.061},{"s":"Random-High","x":53,"y":0.057},{"s":"Random-High","x":54,"y":0.06},{"s":"Random-High","x":55,"y":0.056},{"s":"Random-High","x":56,"y":0.061},{"s":"Random-High","x":57,"y":0.058},{"s":"Random-High","x":58,"y":0.062},{"s":"Random-High","x":59,"y":0.057},{"s":"Random-High","x":60,"y":0.06},{"s":"Random-High","x":61,"y":0.056},{"s":"Random-High","x":62,"y":0.061},{"s":"Random-High","x":63,"y":0.057},{"s":"Random-High","x":64,"y":0.06},{"s":"Random-High","x":65,"y":0.056},{"s":"Random-High","x":66,"y":0.059},{"s":"Random-High","x":67,"y":0.055},{"s":"Random-High","x":68,"y":0.058},{"s":"Random-High","x":69,"y":0.054},{"s":"Random-High","x":70,"y":0.056},{"s":"Random-High","x":71,"y":0.05},{"s":"Random-High","x":72,"y":0.047},{"s":"Random-High","x":73,"y":0.05},{"s":"Random-High","x":74,"y":0.046},{"s":"Random-High","x":75,"y":0.049},{"s":"Random-High","x":76,"y":0.045},{"s":"Random-High","x":77,"y":0.048},{"s":"Random-High","x":78,"y":0.044},{"s":"Random-High","x":79,"y":0.047},{"s":"Random-High","x":80,"y":0.045},{"s":"Random-High","x":82,"y":0.047},{"s":"Random-High","x":83,"y":0.043},{"s":"Random-High","x":84,"y":0.046},{"s":"Random-High","x":86,"y":0.043},{"s":"Random-High","x":87,"y":0.045},{"s":"Random-High","x":88,"y":0.042},{"s":"Random-High","x":90,"y":0.045},{"s":"Random-High","x":91,"y":0.042},{"s":"Random-High","x":92,"y":0.044},{"s":"Random-High","x":94,"y":0.041},{"s":"Random-High","x":95,"y":0.043},{"s":"Random-High","x":96,"y":0.04},{"s":"Random-High","x":98,"y":0.043},{"s":"Random-High","x":99,"y":0.04},{"s":"Random-High","x":100,"y":0.042},{"s":"Random-High","x":102,"y":0.039},{"s":"Random-High","x":103,"y":0.041},{"s":"Random-High","x":104,"y":0.038},{"s":"Random-High","x":106,"y":0.041},{"s":"Random-High","x":107,"y":0.038},{"s":"Random-High","x":108,"y":0.04},{"s":"Random-High","x":110,"y":0.037},{"s":"Random-High","x":111,"y":0.039},{"s":"Random-High","x":112,"y":0.036},{"s":"Random-High","x":114,"y":0.039},{"s":"Random-High","x":115,"y":0.036},{"s":"Random-High","x":116,"y":0.038},{"s":"Random-High","x":118,"y":0.035},{"s":"Random-High","x":119,"y":0.037},{"s":"Random-High","x":120,"y":0.035},{"s":"Random-High","x":122,"y":0.037},{"s":"Random-High","x":123,"y":0.034},{"s":"Random-High","x":124,"y":0.036},{"s":"Random-High","x":126,"y":0.034},{"s":"Random-High","x":127,"y":0.036},{"s":"Random-High","x":128,"y":0.033},{"s":"Random-High","x":130,"y":0.035},{"s":"Random-High","x":131,"y":0.033},{"s":"Random-High","x":132,"y":0.035},{"s":"Random-High","x":134,"y":0.032},{"s":"Random-High","x":135,"y":0.034},{"s":"Random-High","x":136,"y":0.032},{"s":"Random-High","x":138,"y":0.034},{"s":"Random-High","x":139,"y":0.031},{"s":"Random-High","x":140,"y":0.033},{"s":"Random-High","x":142,"y":0.031},{"s":"Random-High","x":143,"y":0.033},{"s":"Random-High","x":144,"y":0.03},{"s":"Random-High","x":146,"y":0.033},{"s":"Random-High","x":147,"y":0.031},{"s":"Random-High","x":148,"y":0.033},{"s":"Random-High","x":150,"y":0.031},{"s":"Random-High","x":151,"y":0.034},{"s":"Random-High","x":152,"y":0.031},{"s":"Random-High","x":154,"y":0.033},{"s":"Random-High","x":155,"y":0.03},{"s":"Random-High","x":156,"y":0.032},{"s":"Random-High","x":158,"y":0.03},{"s":"Random-High","x":159,"y":0.033},{"s":"Random-High","x":160,"y":0.031},{"s":"Random-High","x":162,"y":0.033},{"s":"Random-High","x":163,"y":0.03},{"s":"Random-High","x":164,"y":0.032},{"s":"Random-High","x":166,"y":0.03},{"s":"Random-High","x":167,"y":0.033},{"s":"Random-High","x":168,"y":0.031},{"s":"Random-High","x":170,"y":0.033},{"s":"Random-High","x":171,"y":0.03},{"s":"Random-High","x":172,"y":0.032},{"s":"Random-High","x":174,"y":0.03},{"s":"Random-High","x":175,"y":0.032},{"s":"Random-High","x":176,"y":0.03},{"s":"Random-High","x":178,"y":0.033},{"s":"Random-High","x":179,"y":0.031},{"s":"Random-High","x":180,"y":0.034},{"s":"Random-High","x":182,"y":0.031},{"s":"Random-High","x":183,"y":0.033},{"s":"Random-High","x":184,"y":0.03},{"s":"Random-High","x":186,"y":0.032},{"s":"Random-High","x":187,"y":0.029},{"s":"Random-High","x":188,"y":0.031},{"s":"Random-High","x":190,"y":0.029},{"s":"Random-High","x":191,"y":0.031},{"s":"Random-High","x":192,"y":0.028},{"s":"Random-High","x":194,"y":0.03},{"s":"Random-High","x":195,"y":0.028},{"s":"Random-High","x":196,"y":0.03},{"s":"Random-High","x":198,"y":0.028},{"s":"Random-High","x":199,"y":0.03},{"s":"Random-High","x":200,"y":0.027},{"s":"Random-High","x":202,"y":0.029},{"s":"Random-High","x":203,"y":0.027},{"s":"Random-High","x":204,"y":0.029},{"s":"Random-High","x":206,"y":0.027},{"s":"Random-High","x":207,"y":0.029},{"s":"Random-High","x":208,"y":0.026},{"s":"Random-High","x":210,"y":0.028},{"s":"Random-High","x":211,"y":0.026},{"s":"Random-High","x":212,"y":0.028},{"s":"Random-High","x":214,"y":0.026},{"s":"Random-High","x":215,"y":0.028},{"s":"Random-High","x":216,"y":0.026},{"s":"Random-High","x":218,"y":0.027},{"s":"Random-High","x":219,"y":0.025},{"s":"Random-High","x":220,"y":0.027},{"s":"Random-High","x":222,"y":0.025},{"s":"Random-High","x":223,"y":0.027},{"s":"Random-High","x":224,"y":0.025},{"s":"Random-High","x":226,"y":0.027},{"s":"Random-High","x":227,"y":0.025},{"s":"Random-High","x":228,"y":0.026},{"s":"Random-High","x":230,"y":0.025},{"s":"Random-High","x":231,"y":0.027},{"s":"Random-High","x":232,"y":0.025},{"s":"Random-High","x":234,"y":0.026},{"s":"Random-High","x":235,"y":0.024},{"s":"Random-High","x":236,"y":0.026},{"s":"Random-High","x":238,"y":0.024},{"s":"Random-High","x":239,"y":0.026},{"s":"Random-High","x":240,"y":0.024},{"s":"Random-High","x":242,"y":0.026},{"s":"Random-High","x":243,"y":0.024},{"s":"Random-High","x":244,"y":0.025},{"s":"Random-High","x":246,"y":0.023},{"s":"Random-High","x":247,"y":0.025},{"s":"Random-High","x":248,"y":0.024},{"s":"Random-High","x":250,"y":0.025},{"s":"Random-High","x":251,"y":0.023},{"s":"Random-High","x":252,"y":0.024},{"s":"Random-High","x":254,"y":0.023}
],
"b": [
{"s":"MRA-FNO(û)","x":0,"y":0.298},{"s":"MRA-FNO(û)","x":10,"y":0.283},{"s":"MRA-FNO(û)","x":20,"y":0.27},{"s":"MRA-FNO(û)","x":30,"y":0.259},{"s":"MRA-FNO(û)","x":40,"y":0.247},{"s":"MRA-FNO(û)","x":50,"y":0.236},{"s":"MRA-FNO(û)","x":60,"y":0.225},{"s":"MRA-FNO(û)","x":70,"y":0.214},{"s":"MRA-FNO(û)","x":80,"y":0.202},{"s":"MRA-FNO(û)","x":90,"y":0.19},{"s":"MRA-FNO(û)","x":100,"y":0.18},{"s":"MRA-FNO(û)","x":110,"y":0.173},{"s":"MRA-FNO(û)","x":120,"y":0.166},{"s":"MRA-FNO(û)","x":130,"y":0.159},{"s":"MRA-FNO(û)","x":140,"y":0.152},{"s":"MRA-FNO(û)","x":150,"y":0.145},{"s":"MRA-FNO(û)","x":160,"y":0.139},{"s":"MRA-FNO(û)","x":170,"y":0.132},{"s":"MRA-FNO(û)","x":180,"y":0.126},{"s":"MRA-FNO(û)","x":190,"y":0.12},{"s":"MRA-FNO(û)","x":200,"y":0.113},{"s":"MRA-FNO(û)","x":210,"y":0.108},{"s":"MRA-FNO(û)","x":220,"y":0.102},{"s":"MRA-FNO(û)","x":230,"y":0.099},{"s":"MRA-FNO(û)","x":240,"y":0.096},{"s":"MRA-FNO(û)","x":255,"y":0.093},{"s":"MRA-FNO(û)","x":270,"y":0.09},{"s":"MRA-FNO(û)","x":285,"y":0.086},{"s":"MRA-FNO(û)","x":300,"y":0.085},{"s":"MRA-FNO(û)","x":315,"y":0.083},{"s":"MRA-FNO(û)","x":330,"y":0.081},{"s":"MRA-FNO(û)","x":345,"y":0.078},{"s":"MRA-FNO(û)","x":360,"y":0.078},{"s":"MRA-FNO(û)","x":375,"y":0.075},{"s":"MRA-FNO(û)","x":390,"y":0.074},{"s":"MRA-FNO(û)","x":405,"y":0.071},{"s":"MRA-FNO(û)","x":420,"y":0.071},{"s":"MRA-FNO(û)","x":435,"y":0.069},{"s":"MRA-FNO(û)","x":450,"y":0.067},{"s":"MRA-FNO(û)","x":465,"y":0.066},{"s":"MRA-FNO(û)","x":480,"y":0.065},{"s":"MRA-FNO(û)","x":495,"y":0.064},{"s":"MRA-FNO(û)","x":510,"y":0.062},{"s":"MRA-FNO(û)","x":525,"y":0.062},{"s":"MRA-FNO(û)","x":540,"y":0.06},{"s":"MRA-FNO(û)","x":555,"y":0.06},{"s":"MRA-FNO(û)","x":570,"y":0.059},{"s":"MRA-FNO(û)","x":585,"y":0.057},{"s":"MRA-FNO(û)","x":600,"y":0.057},{"s":"MRA-FNO(û)","x":615,"y":0.055},{"s":"MRA-FNO(û)","x":630,"y":0.055},{"s":"MRA-FNO(û)","x":645,"y":0.053},{"s":"MRA-FNO(û)","x":660,"y":0.053},{"s":"MRA-FNO(û)","x":675,"y":0.051},{"s":"MRA-FNO(û)","x":690,"y":0.051},{"s":"MRA-FNO(û)","x":705,"y":0.05},{"s":"MRA-FNO(û)","x":720,"y":0.049},{"s":"MRA-FNO(û)","x":735,"y":0.049},{"s":"MRA-FNO(û)","x":750,"y":0.047},
{"s":"MRA-FNO(u)","x":0,"y":0.3},{"s":"MRA-FNO(u)","x":10,"y":0.285},{"s":"MRA-FNO(u)","x":20,"y":0.272},{"s":"MRA-FNO(u)","x":30,"y":0.262},{"s":"MRA-FNO(u)","x":40,"y":0.25},{"s":"MRA-FNO(u)","x":50,"y":0.24},{"s":"MRA-FNO(u)","x":60,"y":0.228},{"s":"MRA-FNO(u)","x":70,"y":0.218},{"s":"MRA-FNO(u)","x":80,"y":0.205},{"s":"MRA-FNO(u)","x":90,"y":0.192},{"s":"MRA-FNO(u)","x":100,"y":0.182},{"s":"MRA-FNO(u)","x":110,"y":0.176},{"s":"MRA-FNO(u)","x":120,"y":0.168},{"s":"MRA-FNO(u)","x":130,"y":0.162},{"s":"MRA-FNO(u)","x":140,"y":0.154},{"s":"MRA-FNO(u)","x":150,"y":0.148},{"s":"MRA-FNO(u)","x":160,"y":0.141},{"s":"MRA-FNO(u)","x":170,"y":0.135},{"s":"MRA-FNO(u)","x":180,"y":0.128},{"s":"MRA-FNO(u)","x":190,"y":0.122},{"s":"MRA-FNO(u)","x":200,"y":0.115},{"s":"MRA-FNO(u)","x":210,"y":0.109},{"s":"MRA-FNO(u)","x":220,"y":0.103},{"s":"MRA-FNO(u)","x":230,"y":0.098},{"s":"MRA-FNO(u)","x":240,"y":0.095},{"s":"MRA-FNO(u)","x":255,"y":0.092},{"s":"MRA-FNO(u)","x":270,"y":0.089},{"s":"MRA-FNO(u)","x":285,"y":0.087},{"s":"MRA-FNO(u)","x":300,"y":0.084},{"s":"MRA-FNO(u)","x":315,"y":0.082},{"s":"MRA-FNO(u)","x":330,"y":0.08},{"s":"MRA-FNO(u)","x":345,"y":0.079},{"s":"MRA-FNO(u)","x":360,"y":0.077},{"s":"MRA-FNO(u)","x":375,"y":0.076},{"s":"MRA-FNO(u)","x":390,"y":0.073},{"s":"MRA-FNO(u)","x":405,"y":0.072},{"s":"MRA-FNO(u)","x":420,"y":0.07},{"s":"MRA-FNO(u)","x":435,"y":0.068},{"s":"MRA-FNO(u)","x":450,"y":0.066},{"s":"MRA-FNO(u)","x":465,"y":0.065},{"s":"MRA-FNO(u)","x":480,"y":0.064},{"s":"MRA-FNO(u)","x":495,"y":0.063},{"s":"MRA-FNO(u)","x":510,"y":0.063},{"s":"MRA-FNO(u)","x":525,"y":0.061},{"s":"MRA-FNO(u)","x":540,"y":0.062},{"s":"MRA-FNO(u)","x":555,"y":0.059},{"s":"MRA-FNO(u)","x":570,"y":0.058},{"s":"MRA-FNO(u)","x":585,"y":0.056},{"s":"MRA-FNO(u)","x":600,"y":0.056},{"s":"MRA-FNO(u)","x":615,"y":0.054},{"s":"MRA-FNO(u)","x":630,"y":0.054},{"s":"MRA-FNO(u)","x":645,"y":0.052},{"s":"MRA-FNO(u)","x":660,"y":0.052},{"s":"MRA-FNO(u)","x":675,"y":0.051},{"s":"MRA-FNO(u)","x":690,"y":0.05},{"s":"MRA-FNO(u)","x":705,"y":0.049},{"s":"MRA-FNO(u)","x":720,"y":0.049},{"s":"MRA-FNO(u)","x":735,"y":0.048},{"s":"MRA-FNO(u)","x":745,"y":0.047},
{"s":"Coresets-High","x":0,"y":0.3},{"s":"Coresets-High","x":15,"y":0.285},{"s":"Coresets-High","x":30,"y":0.27},{"s":"Coresets-High","x":45,"y":0.258},{"s":"Coresets-High","x":60,"y":0.244},{"s":"Coresets-High","x":75,"y":0.232},{"s":"Coresets-High","x":90,"y":0.22},{"s":"Coresets-High","x":105,"y":0.205},{"s":"Coresets-High","x":120,"y":0.192},{"s":"Coresets-High","x":135,"y":0.182},{"s":"Coresets-High","x":150,"y":0.175},{"s":"Coresets-High","x":165,"y":0.168},{"s":"Coresets-High","x":180,"y":0.163},{"s":"Coresets-High","x":195,"y":0.157},{"s":"Coresets-High","x":210,"y":0.15},{"s":"Coresets-High","x":225,"y":0.144},{"s":"Coresets-High","x":240,"y":0.14},{"s":"Coresets-High","x":255,"y":0.137},{"s":"Coresets-High","x":270,"y":0.134},{"s":"Coresets-High","x":285,"y":0.131},{"s":"Coresets-High","x":300,"y":0.128},{"s":"Coresets-High","x":320,"y":0.124},{"s":"Coresets-High","x":340,"y":0.121},{"s":"Coresets-High","x":360,"y":0.118},{"s":"Coresets-High","x":380,"y":0.114},{"s":"Coresets-High","x":400,"y":0.111},{"s":"Coresets-High","x":420,"y":0.109},{"s":"Coresets-High","x":440,"y":0.106},{"s":"Coresets-High","x":460,"y":0.104},{"s":"Coresets-High","x":480,"y":0.103},{"s":"Coresets-High","x":500,"y":0.101},{"s":"Coresets-High","x":520,"y":0.102},{"s":"Coresets-High","x":540,"y":0.099},{"s":"Coresets-High","x":560,"y":0.1},{"s":"Coresets-High","x":580,"y":0.097},{"s":"Coresets-High","x":600,"y":0.098},{"s":"Coresets-High","x":620,"y":0.095},{"s":"Coresets-High","x":640,"y":0.097},{"s":"Coresets-High","x":660,"y":0.094},{"s":"Coresets-High","x":680,"y":0.095},{"s":"Coresets-High","x":700,"y":0.092},{"s":"Coresets-High","x":720,"y":0.093},{"s":"Coresets-High","x":740,"y":0.09},{"s":"Coresets-High","x":760,"y":0.092},{"s":"Coresets-High","x":780,"y":0.089},{"s":"Coresets-High","x":800,"y":0.09},{"s":"Coresets-High","x":820,"y":0.088},{"s":"Coresets-High","x":840,"y":0.089},{"s":"Coresets-High","x":860,"y":0.086},{"s":"Coresets-High","x":880,"y":0.088},{"s":"Coresets-High","x":900,"y":0.086},{"s":"Coresets-High","x":920,"y":0.087},{"s":"Coresets-High","x":940,"y":0.083},{"s":"Coresets-High","x":960,"y":0.085},{"s":"Coresets-High","x":980,"y":0.082},{"s":"Coresets-High","x":1000,"y":0.084},{"s":"Coresets-High","x":1020,"y":0.082},{"s":"Coresets-High","x":1040,"y":0.083},{"s":"Coresets-High","x":1060,"y":0.081},{"s":"Coresets-High","x":1080,"y":0.083},{"s":"Coresets-High","x":1100,"y":0.082},{"s":"Coresets-High","x":1120,"y":0.084},{"s":"Coresets-High","x":1140,"y":0.083},{"s":"Coresets-High","x":1160,"y":0.085},{"s":"Coresets-High","x":1180,"y":0.084},{"s":"Coresets-High","x":1200,"y":0.086},{"s":"Coresets-High","x":1220,"y":0.085},{"s":"Coresets-High","x":1240,"y":0.087},{"s":"Coresets-High","x":1260,"y":0.085},{"s":"Coresets-High","x":1280,"y":0.086},{"s":"Coresets-High","x":1300,"y":0.084},{"s":"Coresets-High","x":1320,"y":0.086},{"s":"Coresets-High","x":1340,"y":0.087},{"s":"Coresets-High","x":1360,"y":0.088},{"s":"Coresets-High","x":1380,"y":0.086},{"s":"Coresets-High","x":1400,"y":0.087},{"s":"Coresets-High","x":1420,"y":0.085},{"s":"Coresets-High","x":1440,"y":0.084},{"s":"Coresets-High","x":1460,"y":0.082},{"s":"Coresets-High","x":1480,"y":0.083},{"s":"Coresets-High","x":1500,"y":0.081},{"s":"Coresets-High","x":1520,"y":0.082},{"s":"Coresets-High","x":1540,"y":0.08},{"s":"Coresets-High","x":1560,"y":0.081},{"s":"Coresets-High","x":1580,"y":0.078},{"s":"Coresets-High","x":1600,"y":0.079},{"s":"Coresets-High","x":1620,"y":0.077},{"s":"Coresets-High","x":1640,"y":0.078},{"s":"Coresets-High","x":1660,"y":0.076},{"s":"Coresets-High","x":1680,"y":0.077},{"s":"Coresets-High","x":1700,"y":0.075},{"s":"Coresets-High","x":1720,"y":0.076},{"s":"Coresets-High","x":1740,"y":0.075},{"s":"Coresets-High","x":1760,"y":0.076},{"s":"Coresets-High","x":1780,"y":0.074},{"s":"Coresets-High","x":1800,"y":0.075},{"s":"Coresets-High","x":1820,"y":0.073},{"s":"Coresets-High","x":1840,"y":0.074},{"s":"Coresets-High","x":1860,"y":0.072},{"s":"Coresets-High","x":1880,"y":0.073},{"s":"Coresets-High","x":1900,"y":0.071},{"s":"Coresets-High","x":1920,"y":0.073},{"s":"Coresets-High","x":1940,"y":0.072},{"s":"Coresets-High","x":1960,"y":0.073},{"s":"Coresets-High","x":1980,"y":0.071},{"s":"Coresets-High","x":2000,"y":0.072},{"s":"Coresets-High","x":2020,"y":0.073},{"s":"Coresets-High","x":2040,"y":0.071},{"s":"Coresets-High","x":2060,"y":0.072},{"s":"Coresets-High","x":2080,"y":0.073},{"s":"Coresets-High","x":2100,"y":0.072},
{"s":"Coresets-Low","x":0,"y":0.292},{"s":"Coresets-Low","x":10,"y":0.27},{"s":"Coresets-Low","x":20,"y":0.262},{"s":"Coresets-Low","x":30,"y":0.25},{"s":"Coresets-Low","x":40,"y":0.245},{"s":"Coresets-Low","x":50,"y":0.232},{"s":"Coresets-Low","x":60,"y":0.24},{"s":"Coresets-Low","x":70,"y":0.228},{"s":"Coresets-Low","x":80,"y":0.236},{"s":"Coresets-Low","x":90,"y":0.222},{"s":"Coresets-Low","x":100,"y":0.232},{"s":"Coresets-Low","x":110,"y":0.215},{"s":"Coresets-Low","x":120,"y":0.228},{"s":"Coresets-Low","x":130,"y":0.21},{"s":"Coresets-Low","x":140,"y":0.224},{"s":"Coresets-Low","x":150,"y":0.205},{"s":"Coresets-Low","x":160,"y":0.218},{"s":"Coresets-Low","x":170,"y":0.2},{"s":"Coresets-Low","x":180,"y":0.212},{"s":"Coresets-Low","x":190,"y":0.192},{"s":"Coresets-Low","x":200,"y":0.205},{"s":"Coresets-Low","x":210,"y":0.186},{"s":"Coresets-Low","x":220,"y":0.198},{"s":"Coresets-Low","x":230,"y":0.178},{"s":"Coresets-Low","x":240,"y":0.192},{"s":"Coresets-Low","x":250,"y":0.172},{"s":"Coresets-Low","x":260,"y":0.186},{"s":"Coresets-Low","x":270,"y":0.165},{"s":"Coresets-Low","x":280,"y":0.178},{"s":"Coresets-Low","x":290,"y":0.158},{"s":"Coresets-Low","x":300,"y":0.152},
{"s":"Coresets-Mix","x":0,"y":0.298},{"s":"Coresets-Mix","x":15,"y":0.283},{"s":"Coresets-Mix","x":30,"y":0.268},{"s":"Coresets-Mix","x":45,"y":0.255},{"s":"Coresets-Mix","x":60,"y":0.242},{"s":"Coresets-Mix","x":75,"y":0.23},{"s":"Coresets-Mix","x":90,"y":0.218},{"s":"Coresets-Mix","x":105,"y":0.205},{"s":"Coresets-Mix","x":120,"y":0.195},{"s":"Coresets-Mix","x":135,"y":0.185},{"s":"Coresets-Mix","x":150,"y":0.177},{"s":"Coresets-Mix","x":165,"y":0.17},{"s":"Coresets-Mix","x":180,"y":0.163},{"s":"Coresets-Mix","x":195,"y":0.157},{"s":"Coresets-Mix","x":210,"y":0.151},{"s":"Coresets-Mix","x":225,"y":0.146},{"s":"Coresets-Mix","x":240,"y":0.142},{"s":"Coresets-Mix","x":255,"y":0.139},{"s":"Coresets-Mix","x":270,"y":0.136},{"s":"Coresets-Mix","x":285,"y":0.133},{"s":"Coresets-Mix","x":300,"y":0.131},{"s":"Coresets-Mix","x":320,"y":0.128},{"s":"Coresets-Mix","x":340,"y":0.126},{"s":"Coresets-Mix","x":360,"y":0.124},{"s":"Coresets-Mix","x":380,"y":0.122},{"s":"Coresets-Mix","x":400,"y":0.12},{"s":"Coresets-Mix","x":420,"y":0.118},{"s":"Coresets-Mix","x":440,"y":0.119},{"s":"Coresets-Mix","x":460,"y":0.116},{"s":"Coresets-Mix","x":480,"y":0.117},{"s":"Coresets-Mix","x":500,"y":0.114},{"s":"Coresets-Mix","x":520,"y":0.116},{"s":"Coresets-Mix","x":540,"y":0.113},{"s":"Coresets-Mix","x":560,"y":0.115},{"s":"Coresets-Mix","x":580,"y":0.112},{"s":"Coresets-Mix","x":600,"y":0.113},{"s":"Coresets-Mix","x":620,"y":0.11},{"s":"Coresets-Mix","x":640,"y":0.111},{"s":"Coresets-Mix","x":660,"y":0.108},{"s":"Coresets-Mix","x":680,"y":0.11},{"s":"Coresets-Mix","x":700,"y":0.108},{"s":"Coresets-Mix","x":720,"y":0.11},{"s":"Coresets-Mix","x":740,"y":0.109},{"s":"Coresets-Mix","x":760,"y":0.11},{"s":"Coresets-Mix","x":780,"y":0.108},{"s":"Coresets-Mix","x":800,"y":0.11},{"s":"Coresets-Mix","x":820,"y":0.112},{"s":"Coresets-Mix","x":840,"y":0.109},{"s":"Coresets-Mix","x":860,"y":0.111},{"s":"Coresets-Mix","x":880,"y":0.108},{"s":"Coresets-Mix","x":900,"y":0.11},{"s":"Coresets-Mix","x":920,"y":0.107},{"s":"Coresets-Mix","x":940,"y":0.108},{"s":"Coresets-Mix","x":960,"y":0.105},{"s":"Coresets-Mix","x":980,"y":0.107},{"s":"Coresets-Mix","x":1000,"y":0.104},{"s":"Coresets-Mix","x":1020,"y":0.105},{"s":"Coresets-Mix","x":1040,"y":0.102},{"s":"Coresets-Mix","x":1060,"y":0.103},{"s":"Coresets-Mix","x":1080,"y":0.1},{"s":"Coresets-Mix","x":1100,"y":0.101},{"s":"Coresets-Mix","x":1120,"y":0.098},{"s":"Coresets-Mix","x":1140,"y":0.099},{"s":"Coresets-Mix","x":1160,"y":0.096},{"s":"Coresets-Mix","x":1180,"y":0.097},{"s":"Coresets-Mix","x":1200,"y":0.095},{"s":"Coresets-Mix","x":1220,"y":0.096},{"s":"Coresets-Mix","x":1240,"y":0.094},{"s":"Coresets-Mix","x":1260,"y":0.094},{"s":"Coresets-Mix","x":1280,"y":0.093},
{"s":"MR-Dropout(u)","x":0,"y":0.285},{"s":"MR-Dropout(u)","x":10,"y":0.262},{"s":"MR-Dropout(u)","x":20,"y":0.248},{"s":"MR-Dropout(u)","x":30,"y":0.236},{"s":"MR-Dropout(u)","x":40,"y":0.225},{"s":"MR-Dropout(u)","x":50,"y":0.215},{"s":"MR-Dropout(u)","x":60,"y":0.206},{"s":"MR-Dropout(u)","x":70,"y":0.197},{"s":"MR-Dropout(u)","x":80,"y":0.19},{"s":"MR-Dropout(u)","x":90,"y":0.184},{"s":"MR-Dropout(u)","x":100,"y":0.178},{"s":"MR-Dropout(u)","x":120,"y":0.168},{"s":"MR-Dropout(u)","x":140,"y":0.16},
{"s":"MR-Dropout(û)","x":0,"y":0.28},{"s":"MR-Dropout(û)","x":10,"y":0.255},{"s":"MR-Dropout(û)","x":20,"y":0.24},{"s":"MR-Dropout(û)","x":30,"y":0.228},{"s":"MR-Dropout(û)","x":40,"y":0.215},{"s":"MR-Dropout(û)","x":50,"y":0.205},{"s":"MR-Dropout(û)","x":60,"y":0.196},{"s":"MR-Dropout(û)","x":70,"y":0.188},{"s":"MR-Dropout(û)","x":80,"y":0.18},{"s":"MR-Dropout(û)","x":90,"y":0.175},{"s":"MR-Dropout(û)","x":100,"y":0.168},{"s":"MR-Dropout(û)","x":110,"y":0.171},{"s":"MR-Dropout(û)","x":120,"y":0.16},{"s":"MR-Dropout(û)","x":130,"y":0.165},{"s":"MR-Dropout(û)","x":140,"y":0.152},{"s":"MR-Dropout(û)","x":150,"y":0.158},{"s":"MR-Dropout(û)","x":160,"y":0.146},{"s":"MR-Dropout(û)","x":170,"y":0.152},{"s":"MR-Dropout(û)","x":180,"y":0.14},{"s":"MR-Dropout(û)","x":190,"y":0.146},{"s":"MR-Dropout(û)","x":200,"y":0.135},{"s":"MR-Dropout(û)","x":210,"y":0.142},{"s":"MR-Dropout(û)","x":220,"y":0.13},{"s":"MR-Dropout(û)","x":230,"y":0.138},{"s":"MR-Dropout(û)","x":240,"y":0.126},{"s":"MR-Dropout(û)","x":250,"y":0.133},{"s":"MR-Dropout(û)","x":260,"y":0.122},{"s":"MR-Dropout(û)","x":270,"y":0.129},{"s":"MR-Dropout(û)","x":280,"y":0.118},{"s":"MR-Dropout(û)","x":290,"y":0.125},{"s":"MR-Dropout(û)","x":300,"y":0.117},
{"s":"Random-Mix","x":0,"y":0.3},{"s":"Random-Mix","x":15,"y":0.288},{"s":"Random-Mix","x":30,"y":0.276},{"s":"Random-Mix","x":45,"y":0.266},{"s":"Random-Mix","x":60,"y":0.257},{"s":"Random-Mix","x":75,"y":0.249},{"s":"Random-Mix","x":90,"y":0.242},{"s":"Random-Mix","x":105,"y":0.238},{"s":"Random-Mix","x":120,"y":0.236},{"s":"Random-Mix","x":135,"y":0.23},{"s":"Random-Mix","x":150,"y":0.225},{"s":"Random-Mix","x":165,"y":0.218},{"s":"Random-Mix","x":180,"y":0.212},{"s":"Random-Mix","x":195,"y":0.207},{"s":"Random-Mix","x":210,"y":0.203},{"s":"Random-Mix","x":225,"y":0.2},{"s":"Random-Mix","x":240,"y":0.198},{"s":"Random-Mix","x":255,"y":0.196},{"s":"Random-Mix","x":270,"y":0.194},{"s":"Random-Mix","x":285,"y":0.191},{"s":"Random-Mix","x":300,"y":0.19},{"s":"Random-Mix","x":320,"y":0.187},{"s":"Random-Mix","x":340,"y":0.184},{"s":"Random-Mix","x":360,"y":0.181},{"s":"Random-Mix","x":380,"y":0.178},{"s":"Random-Mix","x":400,"y":0.176},{"s":"Random-Mix","x":420,"y":0.172},{"s":"Random-Mix","x":440,"y":0.169},{"s":"Random-Mix","x":460,"y":0.166},{"s":"Random-Mix","x":480,"y":0.164},{"s":"Random-Mix","x":500,"y":0.161},{"s":"Random-Mix","x":520,"y":0.159},{"s":"Random-Mix","x":540,"y":0.156},{"s":"Random-Mix","x":560,"y":0.153},{"s":"Random-Mix","x":580,"y":0.151},{"s":"Random-Mix","x":600,"y":0.149},{"s":"Random-Mix","x":620,"y":0.146},{"s":"Random-Mix","x":640,"y":0.144},{"s":"Random-Mix","x":660,"y":0.141},{"s":"Random-Mix","x":680,"y":0.139},{"s":"Random-Mix","x":700,"y":0.137},{"s":"Random-Mix","x":720,"y":0.134},{"s":"Random-Mix","x":740,"y":0.133},{"s":"Random-Mix","x":760,"y":0.13},{"s":"Random-Mix","x":780,"y":0.128},{"s":"Random-Mix","x":800,"y":0.126},{"s":"Random-Mix","x":820,"y":0.125},{"s":"Random-Mix","x":840,"y":0.123},{"s":"Random-Mix","x":860,"y":0.121},{"s":"Random-Mix","x":880,"y":0.12},{"s":"Random-Mix","x":900,"y":0.118},{"s":"Random-Mix","x":920,"y":0.116},{"s":"Random-Mix","x":940,"y":0.114},{"s":"Random-Mix","x":960,"y":0.112},{"s":"Random-Mix","x":980,"y":0.11},{"s":"Random-Mix","x":1000,"y":0.109},{"s":"Random-Mix","x":1020,"y":0.107},{"s":"Random-Mix","x":1040,"y":0.105},{"s":"Random-Mix","x":1060,"y":0.103},{"s":"Random-Mix","x":1080,"y":0.101},{"s":"Random-Mix","x":1100,"y":0.1},{"s":"Random-Mix","x":1120,"y":0.098},{"s":"Random-Mix","x":1140,"y":0.097},{"s":"Random-Mix","x":1160,"y":0.095},
{"s":"Random-Low","x":0,"y":0.288},{"s":"Random-Low","x":8,"y":0.258},{"s":"Random-Low","x":16,"y":0.27},{"s":"Random-Low","x":24,"y":0.24},{"s":"Random-Low","x":32,"y":0.255},{"s":"Random-Low","x":40,"y":0.225},{"s":"Random-Low","x":48,"y":0.24},{"s":"Random-Low","x":56,"y":0.212},{"s":"Random-Low","x":64,"y":0.232},{"s":"Random-Low","x":72,"y":0.205},{"s":"Random-Low","x":80,"y":0.225},{"s":"Random-Low","x":88,"y":0.198},{"s":"Random-Low","x":96,"y":0.222},{"s":"Random-Low","x":104,"y":0.192},{"s":"Random-Low","x":112,"y":0.218},{"s":"Random-Low","x":120,"y":0.188},{"s":"Random-Low","x":128,"y":0.215},{"s":"Random-Low","x":136,"y":0.185},{"s":"Random-Low","x":144,"y":0.212},{"s":"Random-Low","x":152,"y":0.18},{"s":"Random-Low","x":160,"y":0.21},{"s":"Random-Low","x":168,"y":0.178},{"s":"Random-Low","x":176,"y":0.206},{"s":"Random-Low","x":184,"y":0.175},{"s":"Random-Low","x":192,"y":0.204},{"s":"Random-Low","x":200,"y":0.172},{"s":"Random-Low","x":208,"y":0.202},{"s":"Random-Low","x":216,"y":0.17},{"s":"Random-Low","x":224,"y":0.2},{"s":"Random-Low","x":232,"y":0.168},{"s":"Random-Low","x":240,"y":0.198},{"s":"Random-Low","x":248,"y":0.166},{"s":"Random-Low","x":256,"y":0.196},{"s":"Random-Low","x":264,"y":0.165},{"s":"Random-Low","x":272,"y":0.195},{"s":"Random-Low","x":280,"y":0.163},{"s":"Random-Low","x":288,"y":0.194},{"s":"Random-Low","x":296,"y":0.162},{"s":"Random-Low","x":300,"y":0.192},
{"s":"Random-High","x":0,"y":0.3},{"s":"Random-High","x":15,"y":0.292},{"s":"Random-High","x":30,"y":0.283},{"s":"Random-High","x":45,"y":0.275},{"s":"Random-High","x":60,"y":0.266},{"s":"Random-High","x":75,"y":0.256},{"s":"Random-High","x":90,"y":0.243},{"s":"Random-High","x":105,"y":0.228},{"s":"Random-High","x":120,"y":0.214},{"s":"Random-High","x":135,"y":0.203},{"s":"Random-High","x":150,"y":0.194},{"s":"Random-High","x":165,"y":0.186},{"s":"Random-High","x":180,"y":0.179},{"s":"Random-High","x":195,"y":0.174},{"s":"Random-High","x":210,"y":0.168},{"s":"Random-High","x":225,"y":0.163},{"s":"Random-High","x":240,"y":0.16},{"s":"Random-High","x":255,"y":0.157},{"s":"Random-High","x":270,"y":0.155},{"s":"Random-High","x":285,"y":0.153},{"s":"Random-High","x":300,"y":0.152},{"s":"Random-High","x":320,"y":0.15},{"s":"Random-High","x":340,"y":0.149},{"s":"Random-High","x":360,"y":0.147},{"s":"Random-High","x":380,"y":0.146},{"s":"Random-High","x":400,"y":0.145},{"s":"Random-High","x":420,"y":0.142},{"s":"Random-High","x":440,"y":0.143},{"s":"Random-High","x":460,"y":0.139},{"s":"Random-High","x":480,"y":0.138},{"s":"Random-High","x":500,"y":0.136},{"s":"Random-High","x":520,"y":0.137},{"s":"Random-High","x":540,"y":0.133},{"s":"Random-High","x":560,"y":0.132},{"s":"Random-High","x":580,"y":0.131},{"s":"Random-High","x":600,"y":0.13},{"s":"Random-High","x":620,"y":0.128},{"s":"Random-High","x":640,"y":0.129},{"s":"Random-High","x":660,"y":0.127},{"s":"Random-High","x":680,"y":0.126},{"s":"Random-High","x":700,"y":0.125},{"s":"Random-High","x":720,"y":0.124},{"s":"Random-High","x":740,"y":0.122},{"s":"Random-High","x":760,"y":0.122},{"s":"Random-High","x":780,"y":0.12},{"s":"Random-High","x":800,"y":0.119},{"s":"Random-High","x":820,"y":0.117},{"s":"Random-High","x":840,"y":0.117},{"s":"Random-High","x":860,"y":0.115},{"s":"Random-High","x":880,"y":0.114},{"s":"Random-High","x":900,"y":0.113},{"s":"Random-High","x":920,"y":0.114},{"s":"Random-High","x":940,"y":0.112},{"s":"Random-High","x":960,"y":0.111},{"s":"Random-High","x":980,"y":0.109},{"s":"Random-High","x":1000,"y":0.109},{"s":"Random-High","x":1020,"y":0.108},{"s":"Random-High","x":1040,"y":0.106},{"s":"Random-High","x":1060,"y":0.107},{"s":"Random-High","x":1080,"y":0.105},{"s":"Random-High","x":1100,"y":0.104},{"s":"Random-High","x":1120,"y":0.105},{"s":"Random-High","x":1140,"y":0.103},{"s":"Random-High","x":1160,"y":0.103},{"s":"Random-High","x":1180,"y":0.102},{"s":"Random-High","x":1200,"y":0.102},{"s":"Random-High","x":1220,"y":0.101},{"s":"Random-High","x":1240,"y":0.1},{"s":"Random-High","x":1260,"y":0.101},{"s":"Random-High","x":1280,"y":0.099},{"s":"Random-High","x":1300,"y":0.098},{"s":"Random-High","x":1320,"y":0.099},{"s":"Random-High","x":1340,"y":0.097},{"s":"Random-High","x":1360,"y":0.096},{"s":"Random-High","x":1380,"y":0.097},{"s":"Random-High","x":1400,"y":0.095},{"s":"Random-High","x":1420,"y":0.094},{"s":"Random-High","x":1440,"y":0.095},{"s":"Random-High","x":1460,"y":0.093},{"s":"Random-High","x":1480,"y":0.093},{"s":"Random-High","x":1500,"y":0.092},{"s":"Random-High","x":1520,"y":0.091},{"s":"Random-High","x":1540,"y":0.092},{"s":"Random-High","x":1560,"y":0.09},{"s":"Random-High","x":1580,"y":0.09},{"s":"Random-High","x":1600,"y":0.089},{"s":"Random-High","x":1620,"y":0.088},{"s":"Random-High","x":1640,"y":0.088},{"s":"Random-High","x":1660,"y":0.087},{"s":"Random-High","x":1680,"y":0.086},{"s":"Random-High","x":1700,"y":0.086},{"s":"Random-High","x":1720,"y":0.085},{"s":"Random-High","x":1740,"y":0.084},{"s":"Random-High","x":1760,"y":0.083},{"s":"Random-High","x":1780,"y":0.083},{"s":"Random-High","x":1800,"y":0.082},{"s":"Random-High","x":1820,"y":0.081},{"s":"Random-High","x":1840,"y":0.08},{"s":"Random-High","x":1860,"y":0.079},{"s":"Random-High","x":1880,"y":0.078},{"s":"Random-High","x":1900,"y":0.077},{"s":"Random-High","x":1920,"y":0.076},{"s":"Random-High","x":1940,"y":0.075},{"s":"Random-High","x":1960,"y":0.074},{"s":"Random-High","x":1980,"y":0.073},{"s":"Random-High","x":2000,"y":0.072},{"s":"Random-High","x":2020,"y":0.071},{"s":"Random-High","x":2040,"y":0.071},{"s":"Random-High","x":2060,"y":0.07},{"s":"Random-High","x":2080,"y":0.069},{"s":"Random-High","x":2100,"y":0.069}
]
},
"hconcat": [
{
  "width": 280, "height": 184,
  "title": {"text": "(a) Diffusion", "orient": "bottom", "anchor": "middle", "frame": "group", "dx": -19, "offset": 12, "font": "Liberation Serif", "fontSize": 15, "fontStyle": "italic", "fontWeight": "normal", "color": "#000"},
  "data": {"name": "a"},
  "mark": {"type": "line", "strokeWidth": 2, "clip": true},
  "encoding": {
    "x": {"field": "x", "type": "quantitative", "scale": {"domain": [-12.9, 264.9], "nice": false, "zero": false}, "axis": {"values": [0, 50, 100, 150, 200, 250], "format": "d", "title": "Accumulated Data Cost", "titlePadding": 1}},
    "y": {"field": "y", "type": "quantitative", "scale": {"domain": [0.00948, 0.11884], "nice": false, "zero": false}, "axis": {"values": [0.02, 0.03, 0.06, 0.1], "format": ".2f", "title": "Relatvie L₂ Error", "titleX": -22}},
    "color": {"field": "s", "type": "nominal", "scale": {"domain": ["MRA-FNO(u)", "MRA-FNO(û)", "Coresets-High", "Coresets-Low", "Coresets-Mix", "MR-Dropout(u)", "MR-Dropout(û)", "Random-Mix", "Random-Low", "Random-High"], "range": ["#000000", "#ff0000", "#0000ff", "#00ffff", "#800080", "#008000", "#008000", "#ff00ff", "#f08080", "#ffa500"]}, "legend": {"orient": "top-right", "columns": 2}},
    "strokeDash": {"field": "s", "type": "nominal", "scale": {"domain": ["MRA-FNO(u)", "MRA-FNO(û)", "Coresets-High", "Coresets-Low", "Coresets-Mix", "MR-Dropout(u)", "MR-Dropout(û)", "Random-Mix", "Random-Low", "Random-High"], "range": [[1, 0], [1, 0], [1, 0], [1, 0], [1, 0], [8, 4], [1, 0], [1, 0], [1, 0], [1, 0]]}, "legend": {"orient": "top-right", "columns": 2}}
  }
},
{
  "width": 278, "height": 184,
  "title": {"text": "(b) Navier Stoke (NS)", "orient": "bottom", "anchor": "middle", "frame": "group", "dx": 4, "offset": 12, "font": "Liberation Serif", "fontSize": 15, "fontStyle": "italic", "fontWeight": "normal", "color": "#000"},
  "data": {"name": "b"},
  "mark": {"type": "line", "strokeWidth": 2, "clip": true},
  "encoding": {
    "x": {"field": "x", "type": "quantitative", "scale": {"domain": [-99.5, 2167], "nice": false, "zero": false}, "axis": {"values": [0, 500, 1000, 1500, 2000], "format": "d", "title": "Accumulated Data Cost", "titlePadding": 1}},
    "y": {"field": "y", "type": "quantitative", "scale": {"domain": [0.03216, 0.31265], "nice": false, "zero": false}, "axis": {"values": [0.05, 0.1, 0.18, 0.3], "format": ".2f", "title": "Relatvie L₂ Error", "titleX": -22}},
    "color": {"field": "s", "type": "nominal", "scale": {"domain": ["MRA-FNO(u)", "MRA-FNO(û)", "Coresets-High", "Coresets-Low", "Coresets-Mix", "MR-Dropout(u)", "MR-Dropout(û)", "Random-Mix", "Random-Low", "Random-High"], "range": ["#000000", "#ff0000", "#0000ff", "#00ffff", "#800080", "#008000", "#008000", "#ff00ff", "#f08080", "#ffa500"]}, "legend": null},
    "strokeDash": {"field": "s", "type": "nominal", "scale": {"domain": ["MRA-FNO(u)", "MRA-FNO(û)", "Coresets-High", "Coresets-Low", "Coresets-Mix", "MR-Dropout(u)", "MR-Dropout(û)", "Random-Mix", "Random-Low", "Random-High"], "range": [[1, 0], [1, 0], [1, 0], [1, 0], [1, 0], [8, 4], [1, 0], [1, 0], [1, 0], [1, 0]]}, "legend": null}
  }
}
]
}
